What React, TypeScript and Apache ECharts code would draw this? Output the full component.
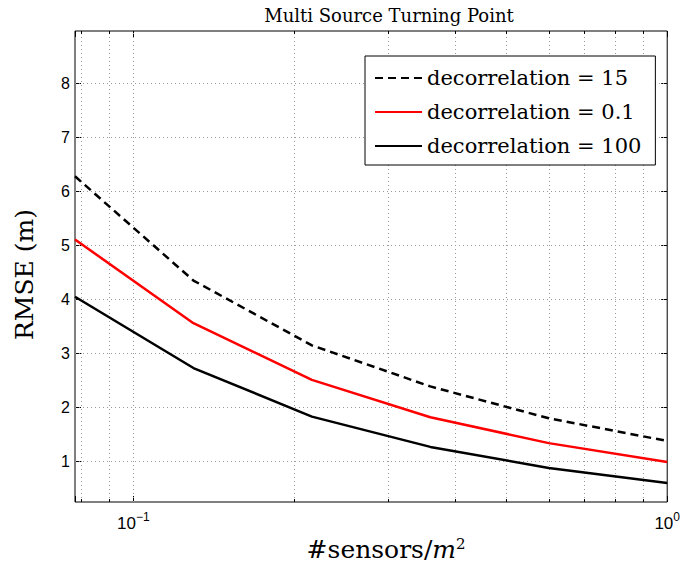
import React, { useEffect, useRef } from 'react';
import * as echarts from 'echarts';

// ---- data ----
const sensorDensity = [0.07776, 0.1296, 0.216, 0.36, 0.6, 1];
const rmseDecor15 = [6.28, 4.35, 3.15, 2.39, 1.8, 1.38];
const rmseDecor01 = [5.11, 3.56, 2.51, 1.82, 1.34, 0.99];
const rmseDecor100 = [4.05, 2.73, 1.83, 1.27, 0.88, 0.6];
const seriesNames = ['decorrelation = 15', 'decorrelation = 0.1', 'decorrelation = 100'];
const yTickValues = [1, 2, 3, 4, 5, 6, 7, 8];
const xGridValues = [0.08, 0.09, 0.1, 0.2, 0.3, 0.4, 0.5, 0.6, 0.7, 0.8, 0.9];
const xMinorTickValues = [0.08, 0.09, 0.2, 0.3, 0.4, 0.5, 0.6, 0.7, 0.8, 0.9];
const xLabelPowers = [-1, 0];
const X_MIN = 0.07776;
const X_MAX = 1;
const Y_MIN = 0.25;
const Y_MAX = 8.97;

const SERIF = '"DejaVu Serif", serif';
const SANS = '"Liberation Sans", Arial, sans-serif';

const pairs = (xs: number[], ys: number[]) => xs.map((x, i) => [x, ys[i]]);

export default function App() {
  const ref = useRef<HTMLDivElement>(null);
  useEffect(() => {
    if (!ref.current) return;
    const chart = echarts.init(ref.current, null, { renderer: 'svg' });
    const gridStyle = { color: '#9a9a9a', width: 1, type: [1, 3] as any };
    const tickStyle = { color: '#000', width: 1, type: 'solid' as any };
    const minorLen = 0.055;
    const markData: any[] = [];
    xGridValues.forEach((v) => markData.push({ xAxis: v, lineStyle: gridStyle }));
    yTickValues.forEach((v) => markData.push({ yAxis: v, lineStyle: gridStyle }));
    xMinorTickValues.forEach((v) => {
      markData.push([{ coord: [v, Y_MIN], lineStyle: tickStyle }, { coord: [v, Y_MIN + minorLen] }]);
      markData.push([{ coord: [v, Y_MAX - minorLen], lineStyle: tickStyle }, { coord: [v, Y_MAX] }]);
    });

    const xLabelFormatter = (val: number) => {
      const p = Math.round(Math.log10(val));
      if (Math.abs(Math.log10(val) - p) > 1e-6 || !xLabelPowers.includes(p)) return '';
      return '{b|10}{s|' + (p < 0 ? '\u2212' + Math.abs(p) : String(p)) + '}';
    };

    const lineSeries = (name: string, ys: number[], color: string, dashed: boolean, extra: any = {}) => ({
      name,
      type: 'line',
      data: pairs(sensorDensity, ys),
      symbol: 'none',
      showSymbol: false,
      lineStyle: { color, width: 2.5, type: dashed ? [8, 5] : 'solid' },
      itemStyle: { color },
      z: 3,
      ...extra,
    });

    chart.setOption({
      animation: false,
      backgroundColor: '#fff',
      grid: {
        left: 75,
        right: 14,
        top: 31,
        bottom: 65,
        show: true,
        borderColor: '#000',
        borderWidth: 1,
        backgroundColor: 'transparent',
      },
      graphic: [
        {
          type: 'text',
          x: 389,
          y: 15,
          style: {
            text: 'Multi Source Turning Point',
            fontFamily: SERIF,
            fontSize: 18,
            fill: '#000',
            align: 'center',
            verticalAlign: 'middle',
          },
        },
      ],
      legend: {
        data: seriesNames,
        orient: 'vertical',
        left: 365,
        top: 56,
        backgroundColor: '#fff',
        borderColor: '#000',
        borderWidth: 1,
        borderRadius: 0,
        padding: [10, 14, 7, 9],
        itemWidth: 47,
        itemHeight: 14,
        itemGap: 10,
        selectedMode: false,
        itemStyle: { opacity: 0, borderWidth: 0 },
        textStyle: { fontFamily: SERIF, fontSize: 21, color: '#000', lineHeight: 24, width: 212 },
      },
      xAxis: [
        {
          type: 'log',
          logBase: 10,
          min: X_MIN,
          max: X_MAX,
          position: 'bottom',
          name: '#sensors/{i|m}{s|2}',
          nameLocation: 'middle',
          nameGap: 31,
          nameTextStyle: {
            fontFamily: SERIF,
            fontSize: 25,
            color: '#000',
            padding: [0, 0, 0, 30],
            rich: {
              i: { fontFamily: SERIF, fontSize: 25, fontStyle: 'italic', color: '#000' },
              s: { fontFamily: SERIF, fontSize: 15, color: '#000', verticalAlign: 'top', lineHeight: 15 },
            },
          },
          axisLine: { show: false },
          axisTick: { show: true, inside: true, length: 6, lineStyle: { color: '#000' } },
          axisLabel: {
            show: true,
            margin: 9,
            formatter: xLabelFormatter,
            showMinLabel: true,
            showMaxLabel: true,
            hideOverlap: false,
            rich: {
              b: { fontFamily: SANS, fontSize: 17, color: '#000', lineHeight: 21, verticalAlign: 'bottom' },
              s: { fontFamily: SANS, fontSize: 12, color: '#000', lineHeight: 12, verticalAlign: 'top' },
            },
          },
          splitLine: { show: false },
        },
        {
          type: 'log',
          logBase: 10,
          min: X_MIN,
          max: X_MAX,
          position: 'top',
          axisLine: { show: false },
          axisTick: { show: true, inside: true, length: 6, lineStyle: { color: '#000' } },
          axisLabel: { show: false },
          splitLine: { show: false },
        },
      ],
      yAxis: [
        {
          type: 'value',
          min: Y_MIN,
          max: Y_MAX,
          position: 'left',
          name: 'RMSE (m)',
          nameLocation: 'middle',
          nameGap: 38,
          nameRotate: 90,
          nameTextStyle: { fontFamily: SERIF, fontSize: 25, color: '#000', padding: [0, 16, 0, 0] },
          axisLine: { show: false },
          axisTick: { show: true, inside: true, length: 6, customValues: yTickValues, lineStyle: { color: '#000' } },
          axisLabel: {
            show: true,
            margin: 5,
            customValues: yTickValues,
            fontFamily: SANS,
            fontSize: 16,
            color: '#000',
          },
          splitLine: { show: false },
        },
        {
          type: 'value',
          min: Y_MIN,
          max: Y_MAX,
          position: 'right',
          axisLine: { show: false },
          axisTick: { show: true, inside: true, length: 6, customValues: yTickValues, lineStyle: { color: '#000' } },
          axisLabel: { show: false },
          splitLine: { show: false },
        },
      ],
      series: [
        lineSeries(seriesNames[0], rmseDecor15, '#000', true),
        lineSeries(seriesNames[1], rmseDecor01, '#ff0000', false),
        lineSeries(seriesNames[2], rmseDecor100, '#000', false, {
          markLine: {
            silent: true,
            symbol: 'none',
            z: 1,
            animation: false,
            label: { show: false },
            emphasis: { disabled: true },
            data: markData,
          },
        }),
      ],
    });
    return () => chart.dispose();
  }, []);
  return (
    <div
      ref={ref}
      style={{ position: 'absolute', left: 0, top: 0, width: 683, height: 567, background: '#fff' }}
    />
  );
}
